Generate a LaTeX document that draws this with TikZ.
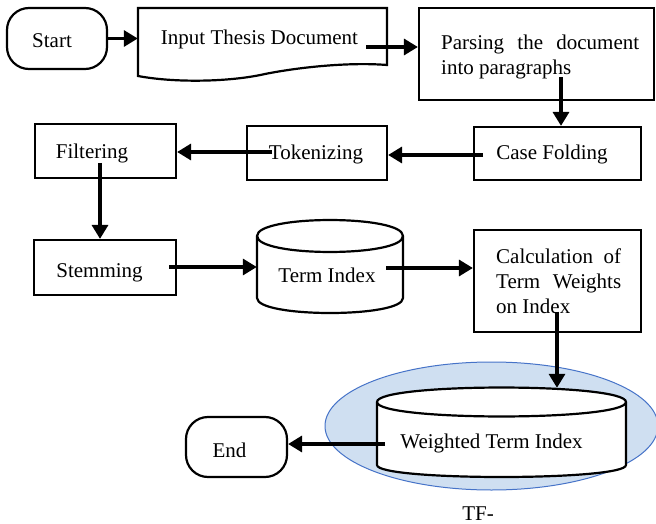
\documentclass[tikz,border=0pt]{standalone}
\usepackage{fontspec}
\setmainfont{Liberation Serif}
\usetikzlibrary{arrows.meta,shapes.geometric}
\definecolor{ellfill}{RGB}{207,223,241}
\definecolor{elldraw}{RGB}{70,115,200}
\begin{document}
\begin{tikzpicture}[x=1pt,y=-1pt,
  font=\fontsize{21}{25}\selectfont,
  boxline/.style={draw=black, line width=2.2pt},
  procbox/.style={boxline, rectangle, inner sep=0pt},
  termbox/.style={boxline, rectangle, rounded corners=22pt, inner sep=0pt},
  ghost/.style={rectangle, inner sep=0pt},
  lbl/.style={anchor=base, inner sep=0pt},
  parlbl/.style={anchor=base west, inner sep=0pt, align=justify},
  arr/.style={line width=3.3pt, -{Triangle[length=14pt,width=16pt]}}]
\useasboundingbox (0,0) rectangle (656,524);

% Start
\node[termbox, minimum width=100pt, minimum height=61pt] (start) at (57,38.5) {};
\node[lbl] (startt) at (52,48) {Start};

% Input Thesis Document (document shape)
\node[ghost, minimum width=249pt, minimum height=68pt] (input) at (262.5,42) {};
\draw[boxline, line join=miter] (138,76) -- (138,8) -- (387,8) -- (387,65)
  .. controls (350,62) and (300,67) .. (265,74)
  .. controls (230,82) and (175,83) .. (138,76) -- cycle;
\node[lbl] (inputt) at (259.5,45) {Input Thesis Document};

% Parsing
\node[procbox, minimum width=235pt, minimum height=92pt] (parse) at (536.5,54) {};
\node[parlbl, text width=198pt] (parset) at (441,50) {Parsing the document\linebreak into paragraphs};

% Case Folding
\node[procbox, minimum width=167pt, minimum height=53pt] (casef) at (557.5,153.5) {};
\node[lbl] (caseft) at (552,160) {Case Folding};

% Tokenizing
\node[procbox, minimum width=140pt, minimum height=54pt] (token) at (317,153) {};
\node[lbl] (tokent) at (316,160) {Tokenizing};

% Filtering
\node[procbox, minimum width=141pt, minimum height=54pt] (filter) at (105.5,151) {};
\node[lbl] (filtert) at (92,159) {Filtering};

% Stemming
\node[procbox, minimum width=142pt, minimum height=55pt] (stem) at (105,267.5) {};
\node[lbl] (stemt) at (99.5,277) {Stemming};

% Term Index (cylinder)
\draw[boxline, fill=white] (257,236) -- (257,298) .. controls (257,318) and (403,318) .. (403,298)
  -- (403,236) .. controls (403,214.7) and (257,214.7) .. (257,236) -- cycle;
\draw[boxline] (257,236) .. controls (257,257.3) and (403,257.3) .. (403,236);
\node[ghost, minimum width=146pt, minimum height=93pt] (termidx) at (330,266.5) {};
\node[lbl] (termidxt) at (327,282) {Term Index};

% Calculation
\node[procbox, minimum width=167pt, minimum height=102pt] (calc) at (557.5,281) {};
\node[parlbl, text width=125pt] (calct) at (496,263) {Calculation of\linebreak Term Weights\linebreak on Index};

% Highlight ellipse
\node[ellipse, draw=elldraw, fill=ellfill, line width=1pt, inner sep=0pt,
  minimum width=333pt, minimum height=128pt] (hl) at (491.5,426) {};

% Weighted Term Index (cylinder)
\draw[boxline, fill=white] (377,402) -- (377,465) .. controls (377,481) and (626,481) .. (626,465)
  -- (626,402) .. controls (626,382.7) and (377,382.7) .. (377,402) -- cycle;
\draw[boxline] (377,402) .. controls (377,421.3) and (626,421.3) .. (626,402);
\node[ghost, minimum width=249pt, minimum height=89pt] (wti) at (501.5,432.5) {};
\node[lbl] (wtit) at (491.5,448) {Weighted Term Index};

% End
\node[termbox, minimum width=101pt, minimum height=60pt] (endn) at (236.5,447) {};
\node[lbl] (endt) at (229.5,457) {End};

% caption fragment
\node[lbl] (tf) at (478,520) {TF-};

% connectors
\coordinate (c2) at (366,47);
\coordinate (c3) at (561,77);
\coordinate (c4) at (483,155);
\coordinate (c5) at (272,152);
\coordinate (c6) at (100,163);
\coordinate (c7) at (169,267);
\coordinate (c8) at (386,268);
\coordinate (c9) at (557,312);
\coordinate (c10) at (385,444);
\draw[arr] (start.east) -- (input.west |- start.east);
\draw[arr] (c2) -- (c2 -| parse.west);
\draw[arr] (c3) -- (c3 |- casef.north);
\draw[arr] (c4) -- (c4 -| token.east);
\draw[arr] (c5) -- (c5 -| filter.east);
\draw[arr] (c6) -- (c6 |- stem.north);
\draw[arr] (c7) -- (c7 -| termidx.west);
\draw[arr] (c8) -- (c8 -| calc.west);
\draw[arr] (c9) -- (c9 |- wti.north);
\draw[arr] (c10) -- (c10 -| endn.east);
\end{tikzpicture}
\end{document}
